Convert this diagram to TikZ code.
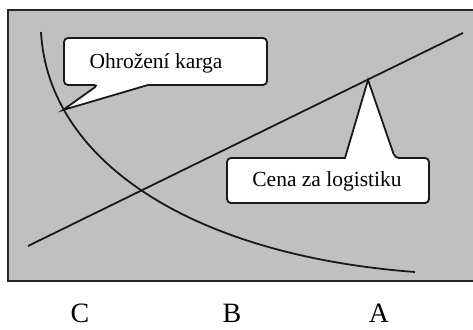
\documentclass[tikz,border=0pt]{standalone}
\usepackage{fontspec}
\setmainfont{Liberation Serif}
\begin{document}
\begin{tikzpicture}[x=1pt,y=-1pt,
  curveline/.style={line width=1.8pt,black!90},
  calloutbox/.style={draw=black!90,line width=1.8pt,fill=white,rounded corners=4pt},
  callouttext/.style={font=\fontsize{21.5}{24}\selectfont,anchor=base,inner sep=0pt},
  axislabel/.style={font=\fontsize{28}{31}\selectfont,anchor=base,inner sep=0pt,text depth=0pt}]
\useasboundingbox (0,0) rectangle (473,329);
\fill[fill=white] (0,0) rectangle (473,329);
\draw[fill={rgb,255:red,192;green,192;blue,192},draw=black!85,line width=2pt] (8,10) rectangle (485,281);
% falling curve
\coordinate (c0) at (41,32);
\coordinate (c1) at (415,272);
\draw[curveline] (c0) .. controls (48,160) and (190,255) .. (c1);
% rising line
\coordinate (l0) at (28,246);
\coordinate (l1) at (463,33);
\draw[curveline] (l0) -- (l1);
% callout 1
\coordinate (tip1) at (63,110);
\draw[calloutbox] (180,85) -- (267,85) -- (267,38) -- (64,38) -- (64,85) -- (98,85) [sharp corners]-- (tip1) -- (148,85) [rounded corners=4pt]-- cycle;
\node[callouttext] (t1) at (156,68) {Ohrožení karga};
% callout 2
\coordinate (tip2) at (368,80);
\draw[calloutbox] (328,203) -- (429,203) -- (429,158) -- (395,158) [sharp corners]-- (tip2) -- (345,158) [rounded corners=4pt]-- (227,158) -- (227,203) -- cycle;
\node[callouttext] (t2) at (327,186) {Cena za logistiku};
% axis labels
\node[axislabel] (c) at (80,322) {C};
\node[axislabel] (b) at (232,322) {B};
\node[axislabel] (a) at (379,322) {A};
\end{tikzpicture}
\end{document}
